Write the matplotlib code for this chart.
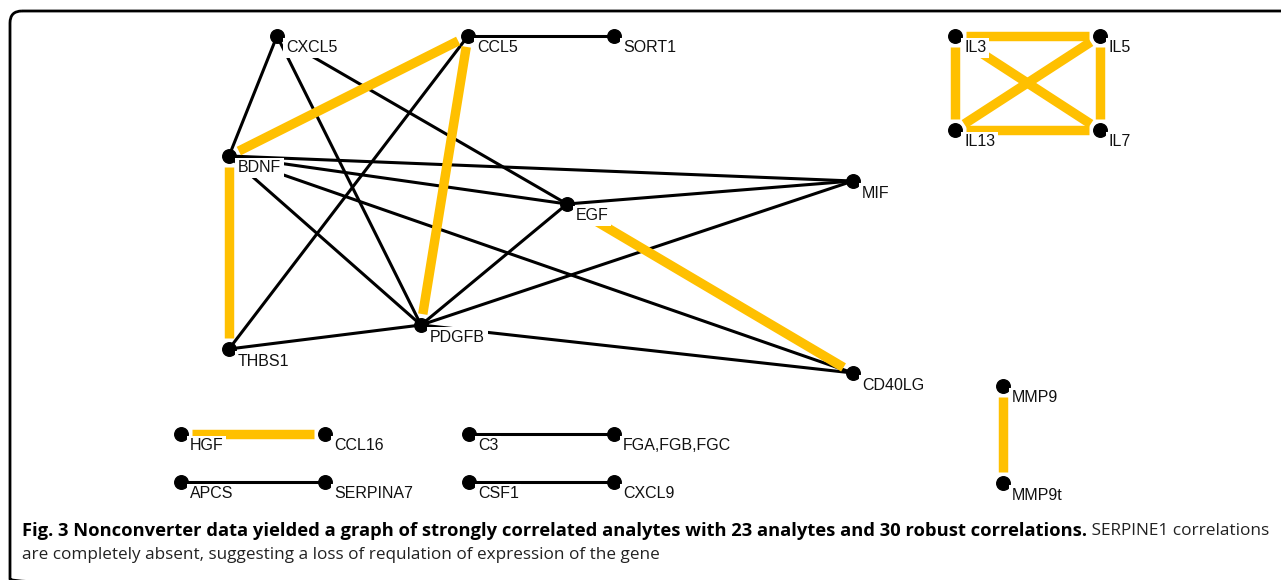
import matplotlib
matplotlib.use("Agg")
import matplotlib.pyplot as plt
from matplotlib.patches import FancyBboxPatch

# node names and positions (pixel coordinates of the original figure)
nodes = ["CXCL5", "CCL5", "SORT1", "BDNF", "EGF", "MIF", "PDGFB", "THBS1", "CD40LG",
         "IL3", "IL5", "IL13", "IL7", "MMP9", "MMP9t",
         "HGF", "CCL16", "C3", "FGA,FGB,FGC", "APCS", "SERPINA7", "CSF1", "CXCL9"]
node_x = [277, 468, 614, 229, 567, 853, 421, 229, 853,
          955, 1100, 955, 1100, 1003, 1003,
          181, 325, 469, 614, 181, 325, 469, 614]
node_y = [36, 36, 36, 156, 204, 181, 325, 349, 373,
          36, 36, 130, 130, 386, 483,
          434, 434, 434, 434, 482, 482, 482, 482]

# strong (yellow) and regular (black) correlations
strong_edges = [("BDNF", "CCL5"), ("CCL5", "PDGFB"), ("BDNF", "THBS1"), ("EGF", "CD40LG"),
                ("IL3", "IL5"), ("IL3", "IL13"), ("IL5", "IL13"), ("IL5", "IL7"),
                ("IL13", "IL7"), ("IL3", "IL7"), ("HGF", "CCL16"), ("MMP9", "MMP9t")]
regular_edges = [("CXCL5", "BDNF"), ("CXCL5", "PDGFB"), ("CXCL5", "EGF"), ("CCL5", "SORT1"),
                 ("CCL5", "THBS1"), ("BDNF", "MIF"), ("BDNF", "EGF"), ("BDNF", "PDGFB"),
                 ("BDNF", "CD40LG"), ("EGF", "MIF"), ("EGF", "PDGFB"), ("PDGFB", "MIF"),
                 ("PDGFB", "THBS1"), ("PDGFB", "CD40LG"), ("C3", "FGA,FGB,FGC"),
                 ("APCS", "SERPINA7"), ("CSF1", "CXCL9")]

pos = {n: (x, y) for n, x, y in zip(nodes, node_x, node_y)}

W, H = 1281, 580
fig = plt.figure(figsize=(W / 100, H / 100), dpi=100)
ax = fig.add_axes([0, 0, 1, 1])
ax.set_xlim(0, W)
ax.set_ylim(H, 0)
ax.axis("off")

# rounded frame, open to the right and bottom
frame = FancyBboxPatch((10, 11), W + 40, 580,
                       boxstyle="round,pad=0,rounding_size=12",
                       fill=False, ec="black", lw=2.0, zorder=0)
ax.add_patch(frame)

for a, b in regular_edges:
    (x1, y1), (x2, y2) = pos[a], pos[b]
    ax.plot([x1, x2], [y1, y2], color="black", lw=2.2, solid_capstyle="butt", zorder=2)

# thick edges stop a little short of the nodes
gap = 11
for a, b in strong_edges:
    (x1, y1), (x2, y2) = pos[a], pos[b]
    d = ((x2 - x1) ** 2 + (y2 - y1) ** 2) ** 0.5
    ux, uy = (x2 - x1) / d, (y2 - y1) / d
    ax.plot([x1 + ux * gap, x2 - ux * gap], [y1 + uy * gap, y2 - uy * gap],
            color="#FFC000", lw=6.8, solid_capstyle="butt", zorder=3)

ax.scatter(node_x, node_y, s=95, color="black", zorder=4)

for n, x, y in zip(nodes, node_x, node_y):
    ax.text(x + 9, y + 12, n, fontsize=11.5, family="Liberation Sans", va="center", ha="left",
            color="#111111", bbox=dict(facecolor="white", edgecolor="none", pad=1.8), zorder=5)

# caption
bold_part = ("Fig. 3 Nonconverter data yielded a graph of strongly correlated analytes "
             "with 23 analytes and 30 robust correlations.")
rest_part = " SERPINE1 correlations"
line2 = "are completely absent, suggesting a loss of requlation of expression of the gene"

t1 = ax.text(22, 531, bold_part, fontsize=13.25, family="Open Sans", weight="bold",
             va="center", ha="left", color="black")
fig.canvas.draw()
bb = t1.get_window_extent()
x_end = ax.transData.inverted().transform((bb.x1, bb.y0))[0]
ax.text(x_end, 531, rest_part, fontsize=12.4, family="Open Sans", va="center", ha="left",
        color="#222222")
ax.text(22, 555, line2, fontsize=12.3, family="Open Sans", va="center", ha="left",
        color="#222222")

plt.savefig("out.png", dpi=100)
